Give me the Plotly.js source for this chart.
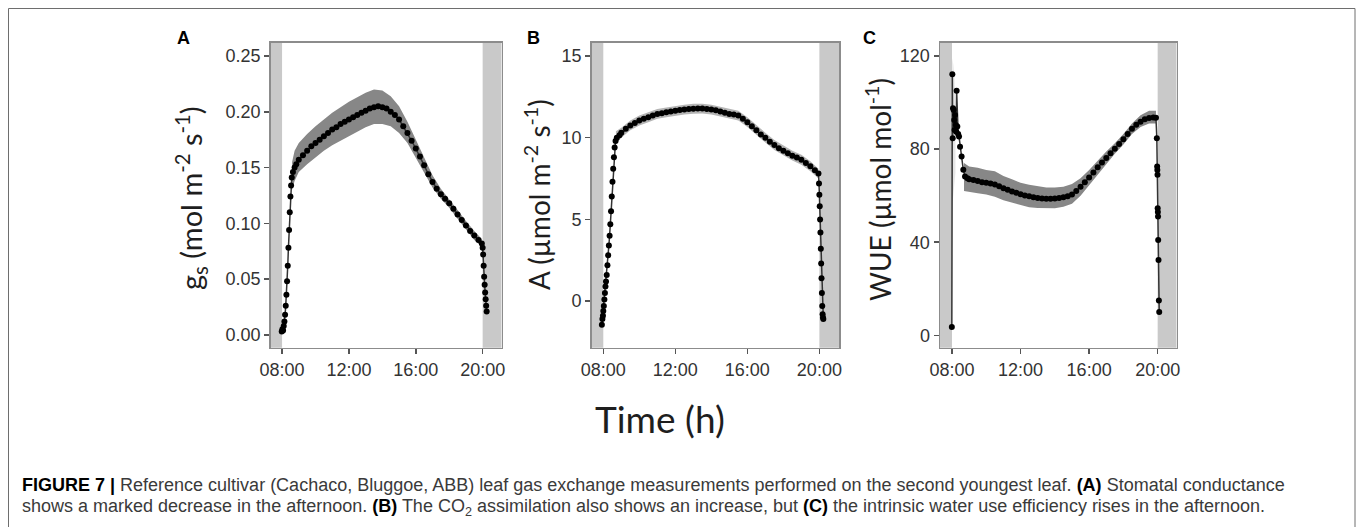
<!DOCTYPE html>
<html>
<head>
<meta charset="utf-8">
<script src="https://cdn.plot.ly/plotly-3.0.1.min.js"></script>
<style>html,body{margin:0;padding:0;background:#fff;}#chart{width:1357px;height:527px;}</style>
</head>
<body>
<div id="chart"></div>
<script>
// ---------- DATA (hours of day) ----------
const panelLabels = ['A', 'B', 'C'];
const xTickVals = [8, 12, 16, 20];
const xTickText = ['08:00', '12:00', '16:00', '20:00'];
const lightOn = 8;
const lightOff = 20;

// (A) stomatal conductance gs
const gsTime = [7.98,8.02,8.06,8.1,8.14,8.18,8.22,8.26,8.3,8.34,8.38,8.42,8.46,8.5,8.54,8.58,8.65,8.75,8.85,
  9.0,9.25,9.5,9.75,10.0,10.25,10.5,10.75,11.0,11.25,11.5,11.75,12.0,12.25,12.5,12.75,13.0,13.25,13.5,13.75,
  14.0,14.25,14.5,14.75,15.0,15.25,15.5,15.75,16.0,16.25,16.5,16.75,17.0,17.25,17.5,17.75,18.0,18.25,18.5,18.75,
  19.0,19.25,19.5,19.75,19.95,20.0,20.03,20.06,20.09,20.12,20.15,20.18,20.21,20.24];
const gsMean = [0.003,0.005,0.004,0.008,0.012,0.018,0.026,0.036,0.048,0.062,0.078,0.094,0.110,0.124,0.134,0.141,0.146,0.150,0.153,
  0.157,0.161,0.165,0.169,0.172,0.175,0.178,0.181,0.184,0.186,0.189,0.191,0.193,0.195,0.197,0.199,0.201,0.203,0.204,0.205,
  0.204,0.203,0.200,0.197,0.193,0.187,0.181,0.174,0.167,0.160,0.152,0.144,0.137,0.131,0.126,0.122,0.118,0.113,0.108,0.103,
  0.098,0.093,0.089,0.085,0.082,0.078,0.072,0.062,0.052,0.045,0.038,0.032,0.026,0.021];
const gsBandTime = [8.6,8.75,9.0,9.5,10.0,10.5,11.0,11.5,12.0,12.5,13.0,13.5,14.0,14.5,15.0,15.5,16.0,16.5,17.0,17.5,18.0,18.5,19.0,19.5,19.95];
const gsLow  = [0.130,0.138,0.146,0.153,0.159,0.165,0.170,0.174,0.178,0.182,0.186,0.189,0.189,0.187,0.181,0.172,0.159,0.146,0.132,0.122,0.114,0.104,0.094,0.085,0.079];
const gsHigh = [0.155,0.165,0.172,0.180,0.187,0.193,0.199,0.204,0.209,0.213,0.217,0.220,0.219,0.214,0.205,0.191,0.175,0.159,0.143,0.131,0.122,0.112,0.102,0.093,0.086];
const gsTicks = [0, 0.05, 0.10, 0.15, 0.20, 0.25];

// (B) CO2 assimilation A
const aTime = [7.92,7.95,7.98,8.0,8.03,8.06,8.09,8.12,8.15,8.19,8.23,8.27,8.31,8.35,8.39,8.43,8.47,8.51,8.55,8.59,8.63,8.68,8.75,8.9,
  9.0,9.25,9.5,9.75,10.0,10.25,10.5,10.75,11.0,11.25,11.5,11.75,12.0,12.25,12.5,12.75,13.0,13.25,13.5,13.75,
  14.0,14.25,14.5,14.75,15.0,15.25,15.5,15.75,16.0,16.25,16.5,16.75,17.0,17.25,17.5,17.75,18.0,18.25,18.5,18.75,
  19.0,19.25,19.5,19.75,19.95,19.98,20.0,20.02,20.04,20.06,20.08,20.1,20.12,20.14,20.16,20.18,20.2,20.22];
const aMean = [-1.45,-1.1,-0.9,-0.6,-0.3,0.1,0.5,0.9,1.2,1.6,2.2,2.8,3.4,4.0,4.7,5.5,6.4,7.3,8.1,8.8,9.4,9.8,10.0,10.15,
  10.3,10.55,10.75,10.9,11.05,11.15,11.25,11.35,11.45,11.5,11.55,11.6,11.65,11.7,11.72,11.75,11.77,11.78,11.78,11.76,
  11.72,11.67,11.6,11.52,11.45,11.42,11.35,11.15,10.95,10.7,10.45,10.2,10.0,9.75,9.55,9.35,9.2,9.05,8.9,8.78,
  8.65,8.45,8.25,8.0,7.8,7.2,6.5,5.8,5.0,4.2,3.2,2.3,1.4,0.5,-0.3,-0.8,-1.0,-1.1];
const aBandTime = [8.7,9.0,9.5,10.0,10.5,11.0,11.5,12.0,12.5,13.0,13.5,14.0,14.5,15.0,15.5,16.0,16.5,17.0,17.5,18.0,18.5,19.0,19.5,19.95];
const aLow  = [9.6,10.0,10.45,10.75,10.95,11.15,11.25,11.35,11.42,11.47,11.48,11.42,11.3,11.15,11.05,10.65,10.15,9.7,9.25,8.9,8.6,8.35,7.95,7.5];
const aHigh = [10.4,10.6,11.05,11.35,11.55,11.75,11.85,11.95,12.02,12.07,12.08,12.02,11.9,11.75,11.65,11.25,10.75,10.3,9.85,9.5,9.2,8.95,8.55,8.1];
const aTicks = [0, 5, 10, 15];

// (C) intrinsic water use efficiency WUE
const wueTime = [7.99,8.02,8.04,8.06,8.1,8.13,8.15,8.18,8.22,8.25,8.27,8.31,8.36,8.41,8.47,8.56,8.66,8.76,8.9,
  9.0,9.25,9.5,9.75,10.0,10.25,10.5,10.75,11.0,11.25,11.5,11.75,12.0,12.25,12.5,12.75,13.0,13.25,13.5,13.75,
  14.0,14.25,14.5,14.75,15.0,15.25,15.5,15.75,16.0,16.25,16.5,16.75,17.0,17.25,17.5,17.75,18.0,18.25,18.5,18.75,
  19.0,19.25,19.5,19.75,19.9,19.95,19.97,19.98,19.99,20.0,20.01,20.02,20.03,20.05,20.07,20.09];
const wueMean = [3.6,112.1,84.7,97.5,96.8,92.5,88.2,94.7,90.4,87.5,105.1,89.7,86.5,85.4,81.0,76.8,71.1,68.2,67.5,
  67.0,66.7,66.3,65.8,65.5,65.2,64.8,64.0,63.2,62.5,61.8,61.2,60.6,60.1,59.7,59.3,59.0,58.8,58.7,58.7,
  58.8,59.0,59.3,59.8,60.5,62.0,63.8,65.8,67.8,70.0,72.2,74.2,76.2,78.2,80.2,82.2,84.2,86.5,88.7,90.5,
  91.8,92.8,93.4,93.6,93.5,84.7,72.5,71.0,69.0,54.6,53.0,51.0,41.0,32.4,15.0,10.0];
const wueBandTime = [8.7,9.0,9.5,10.0,10.5,11.0,11.5,12.0,12.5,13.0,13.5,14.0,14.5,15.0,15.5,16.0,16.5,17.0,17.5,18.0,18.5,19.0,19.5,19.9];
const wueLow  = [62.0,61.5,61.0,60.5,59.5,58.0,57.0,56.0,55.0,54.7,54.5,54.6,55.2,56.5,60.0,64.5,69.5,73.5,78.0,82.0,86.5,89.5,91.0,91.0];
const wueHigh = [74.0,72.5,72.0,71.0,70.5,68.5,67.0,65.5,64.7,64.0,63.5,63.5,63.8,65.0,67.5,71.0,75.0,79.0,82.5,86.5,91.0,94.5,96.5,96.5];
const wueSpikeTime = [8.02,8.08,8.14,8.2];
const wueSpikeLow  = [56,60,64,70];
const wueSpikeHigh = [119,116,110,100];
const wueTicks = [0, 40, 80, 120];

// ---------- DRAWING ----------
const W = 1357, H = 527;
const px = v => v / W;
const py = v => 1 - v / H;

const dotStyle = {color: '#000000', size: 6};
const traces = [];
function addPanel(xa, ya, bt, lo, hi, bandColor, t, m) {
  traces.push({x: bt, y: lo, xaxis: xa, yaxis: ya, mode: 'lines', line: {width: 0, color: bandColor}, hoverinfo: 'skip'});
  traces.push({x: bt, y: hi, xaxis: xa, yaxis: ya, mode: 'lines', line: {width: 0, color: bandColor}, fill: 'tonexty', fillcolor: bandColor, hoverinfo: 'skip'});
  traces.push({x: t, y: m, xaxis: xa, yaxis: ya, mode: 'lines+markers', line: {color: '#333', width: 1.5}, marker: dotStyle});
}
// WUE early spread (faint)
traces.push({x: wueSpikeTime, y: wueSpikeLow, xaxis: 'x3', yaxis: 'y3', mode: 'lines', line: {width: 0}, hoverinfo: 'skip'});
traces.push({x: wueSpikeTime, y: wueSpikeHigh, xaxis: 'x3', yaxis: 'y3', mode: 'lines', line: {width: 0}, fill: 'tonexty', fillcolor: 'rgba(170,170,170,0.3)', hoverinfo: 'skip'});

addPanel('x', 'y', gsBandTime, gsLow, gsHigh, '#878787', gsTime, gsMean);
addPanel('x2', 'y2', aBandTime, aLow, aHigh, '#b5b5b5', aTime, aMean);
addPanel('x3', 'y3', wueBandTime, wueLow, wueHigh, '#878787', wueTime, wueMean);

const tickFont = {family: 'Liberation Sans, Arial, sans-serif', size: 18, color: '#333'};
function xAxis(d0, d1, r, anchor) {
  return {domain: [px(d0), px(d1)], range: r, anchor: anchor, tickvals: xTickVals, ticktext: xTickText,
    ticks: 'outside', ticklen: 5, tickwidth: 1.5, tickcolor: '#555', showline: true, linecolor: '#8c8c8c', linewidth: 1.5,
    mirror: true, showgrid: false, zeroline: false, tickfont: tickFont, fixedrange: true};
}
function yAxis(r, tv, fmt, anchor) {
  return {domain: [py(347.7), py(42.7)], range: r, anchor: anchor, tickvals: tv, tickformat: fmt,
    ticks: 'outside', ticklen: 5, tickwidth: 1.5, tickcolor: '#555', showline: true, linecolor: '#8c8c8c', linewidth: 1.5,
    mirror: true, showgrid: false, zeroline: false, tickfont: tickFont, fixedrange: true};
}

const ranges = [[7.32, 21.14], [7.356, 21.09], [7.30, 21.11]];
const shapes = [];
['x', 'x2', 'x3'].forEach((xa, i) => {
  const ya = 'y' + (i === 0 ? '' : (i + 1));
  shapes.push({type: 'rect', xref: xa, yref: ya + ' domain', x0: ranges[i][0], x1: lightOn, y0: 0, y1: 1, fillcolor: '#c9c9c9', line: {width: 0}, layer: 'below'});
  shapes.push({type: 'rect', xref: xa, yref: ya + ' domain', x0: lightOff, x1: ranges[i][1], y0: 0, y1: 1, fillcolor: '#c9c9c9', line: {width: 0}, layer: 'below'});
});
shapes.push({type: 'rect', xref: 'paper', yref: 'paper', x0: px(8.5), x1: px(1355), y0: -0.1, y1: py(8.5), line: {color: '#6e6e6e', width: 1}, fillcolor: 'rgba(0,0,0,0)'});

const titleFont = {family: 'Lato, Open Sans, sans-serif', size: 28, color: '#1e1e1e'};
const labelFont = {family: 'Liberation Sans, Arial, sans-serif', size: 18, color: '#000'};
const capFont = {family: 'Liberation Sans, Arial, sans-serif', size: 18, color: '#3a3a3a'};
const annotations = [
  {text: '<b>' + panelLabels[0] + '</b>', x: px(183), y: py(38)},
  {text: '<b>' + panelLabels[1] + '</b>', x: px(533), y: py(38)},
  {text: '<b>' + panelLabels[2] + '</b>', x: px(870), y: py(38)}
].map(a => Object.assign(a, {xref: 'paper', yref: 'paper', showarrow: false, font: labelFont, xanchor: 'center', yanchor: 'middle'}));
annotations.push(
  {text: 'g<sub>s</sub> (mol m<sup>-2</sup> s<sup>-1</sup>)', x: px(191), y: py(198), textangle: -90, font: Object.assign({}, titleFont, {size: 29})},
  {text: 'A (µmol m<sup>-2</sup> s<sup>-1</sup>)', x: px(537), y: py(195), textangle: -90},
  {text: 'WUE (µmol mol<sup>-1</sup>)', x: px(878), y: py(189), textangle: -90},
  {text: 'Time (h)', x: px(660), y: py(418), font: Object.assign({}, titleFont, {size: 37})}
);
annotations.forEach(a => { if (!a.xref) Object.assign(a, {xref: 'paper', yref: 'paper', showarrow: false, xanchor: 'center', yanchor: 'middle', font: a.font || titleFont}); });
annotations.push(
  {text: '<b style="color:#000">FIGURE 7 |</b> Reference cultivar (Cachaco, Bluggoe, ABB) leaf gas exchange measurements performed on the second youngest leaf. <b style="color:#000">(A)</b> Stomatal conductance',
   x: px(20), y: py(485), xref: 'paper', yref: 'paper', xanchor: 'left', yanchor: 'middle', showarrow: false, font: capFont, align: 'left'},
  {text: 'shows a marked decrease in the afternoon. <b style="color:#000">(B)</b> The CO<sub>2</sub> assimilation also shows an increase, but <b style="color:#000">(C)</b> the intrinsic water use efficiency rises in the afternoon.',
   x: px(20), y: py(507), xref: 'paper', yref: 'paper', xanchor: 'left', yanchor: 'middle', showarrow: false, font: capFont, align: 'left'}
);

const layout = {
  width: W, height: H, margin: {l: 0, r: 0, t: 0, b: 0}, paper_bgcolor: '#fff', plot_bgcolor: '#fff', showlegend: false,
  xaxis: xAxis(270.7, 501.7, ranges[0], 'y'),
  yaxis: yAxis([-0.0115, 0.2619], gsTicks, '.2f', 'x'),
  xaxis2: xAxis(591.7, 839, ranges[1], 'y2'),
  yaxis2: yAxis([-2.85, 15.81], aTicks, '', 'x2'),
  xaxis3: xAxis(940, 1176.7, ranges[2], 'y3'),
  yaxis3: yAxis([-5.3, 125.7], wueTicks, '', 'x3'),
  shapes: shapes, annotations: annotations
};
Plotly.newPlot('chart', traces, layout, {staticPlot: true, displayModeBar: false});
</script>
</body>
</html>
